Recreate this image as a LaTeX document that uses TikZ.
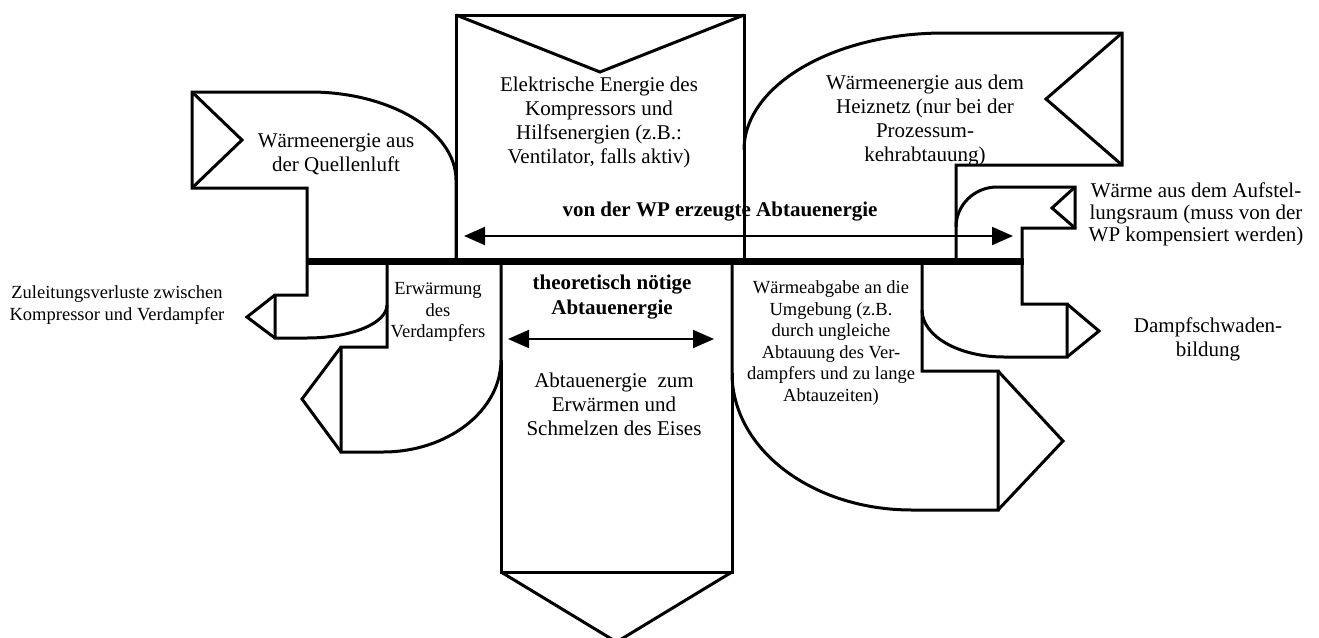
\documentclass[tikz,border=0pt]{standalone}
\usepackage{fontspec}
\setmainfont{Liberation Serif}
\usetikzlibrary{arrows.meta}
\tikzset{
  flow/.style={draw=black, line width=3pt, line join=miter},
  bar/.style={draw=black, line width=7pt},
  dimarrow/.style={draw=black, line width=2pt, {Triangle[length=21pt,width=18pt]}-{Triangle[length=21pt,width=18pt]}},
  txt/.style={font=\fontsize{21}{24}\selectfont, align=center, inner sep=0pt},
  btxt/.style={font=\fontsize{21}{25}\selectfont\bfseries, align=center, inner sep=0pt},
  stxt/.style={font=\fontsize{18.5}{21.5}\selectfont, align=center, inner sep=0pt}
}
\begin{document}
\begin{tikzpicture}[x=1pt,y=-1pt]
\useasboundingbox (0,0) rectangle (1319,637);

% Waermeenergie aus der Quellenluft (input)
\draw[flow] (307,261) -- (307,188) -- (192,188) -- (192,92) -- (310,92)
  .. controls (390,92) and (456,131.4) .. (456,180) -- (456,261);
\draw[flow] (192,92) -- (242,140) -- (192,188);

% Elektrische Energie (input)
\draw[flow] (456,261) -- (456,15) -- (744,15) -- (744,261);
\draw[flow] (456,15) -- (600,72) -- (744,15);

% Heiznetz (input)
\draw[flow] (744,150) .. controls (744,85.4) and (833.5,33) .. (944,33)
  -- (1122,33) -- (1122,165) -- (956,165) -- (956,261);
\draw[flow] (1122,33) -- (1046,99) -- (1122,165);

% Aufstellungsraum (input)
\draw[flow] (956,227) .. controls (956,205) and (974.4,187) .. (997,187)
  -- (1075,187) -- (1075,228) -- (1022,228) -- (1022,261);
\draw[flow] (1075,187) -- (1052,208) -- (1075,228);

% Zuleitungsverluste (output)
\draw[flow] (307,261) -- (307,295) -- (275,295) -- (275,338) -- (307,338)
  .. controls (351.2,338) and (387,323.2) .. (387,305) -- (387,261);
\draw[flow] (275,295) -- (247,317) -- (275,338);

% Erwaermung des Verdampfers (output)
\draw[flow] (387,305) -- (387,347) -- (341,347) -- (341,452) -- (383,452)
  .. controls (447.6,452) and (501,410.8) .. (501,360) -- (501,261);
\draw[flow] (341,347) -- (302,399) -- (341,452);

% theoretisch noetige Abtauenergie (output)
\draw[flow] (501,360) -- (501,572) -- (732,572) -- (732,373);
\draw[flow] (501,572) -- (616.5,642) -- (732,572);

% Waermeabgabe an die Umgebung (output)
\draw[flow] (732,261) -- (732,373) .. controls (732,448.7) and (811.5,510) .. (912,510)
  -- (998,510) -- (998,371) -- (922,371) -- (922,261);
\draw[flow] (998,371) -- (1063,441) -- (998,510);

% Dampfschwadenbildung (output)
\draw[flow] (922,310) .. controls (922,336) and (958.7,357) .. (1004,357)
  -- (1067,357) -- (1067,304) -- (1022,304) -- (1022,261);
\draw[flow] (1067,304) -- (1099,331) -- (1067,357);

% balance bar
\coordinate (barL) at (305.5,261);
\coordinate (barR) at (1023.5,261);
\draw[bar] (barL) -- (barR);

% dimension arrows
\coordinate (wpL) at (464,236);
\coordinate (wpR) at (1013,236);
\draw[dimarrow] (wpL) -- (wpR);
\coordinate (thL) at (508,339);
\coordinate (thR) at (714,339);
\draw[dimarrow] (thL) -- (thR);

% texts
\node[txt] (tQ) at (336,154) {Wärmeenergie aus\\der Quellenluft};
\node[txt] (tE) at (599,122) {Elektrische Energie des\\Kompressors und\\Hilfsenergien (z.B.:\\Ventilator, falls aktiv)};
\node[txt] (tH) at (925,120.5) {Wärmeenergie aus dem\\Heiznetz (nur bei der\\Prozessum-\\kehrabtauung)};
\node[txt, font=\fontsize{21}{22}\selectfont] (tA) at (1196,214) {Wärme aus dem Aufstel-\\lungsraum (muss von der\\WP kompensiert werden)};
\node[btxt, anchor=base] (tWP) at (720,216) {von der WP erzeugte Abtauenergie};
\node[btxt] (tT) at (612,297.5) {theoretisch nötige\\Abtauenergie};
\node[txt] (tS) at (614,404) {Abtauenergie\ \ zum\\Erwärmen und\\Schmelzen des Eises};
\node[txt] (tD) at (1208,339) {Dampfschwaden-\\bildung};
\node[stxt] (tZ) at (117,305) {Zuleitungsverluste zwischen\\Kompressor und Verdampfer};
\node[stxt] (tV) at (438,312) {Erwärmung\\des\\Verdampfers};
\node[stxt] (tU) at (831,343) {Wärmeabgabe an die\\Umgebung (z.B.\\durch ungleiche\\Abtauung des Ver-\\dampfers und zu lange\\Abtauzeiten)};
\end{tikzpicture}
\end{document}
